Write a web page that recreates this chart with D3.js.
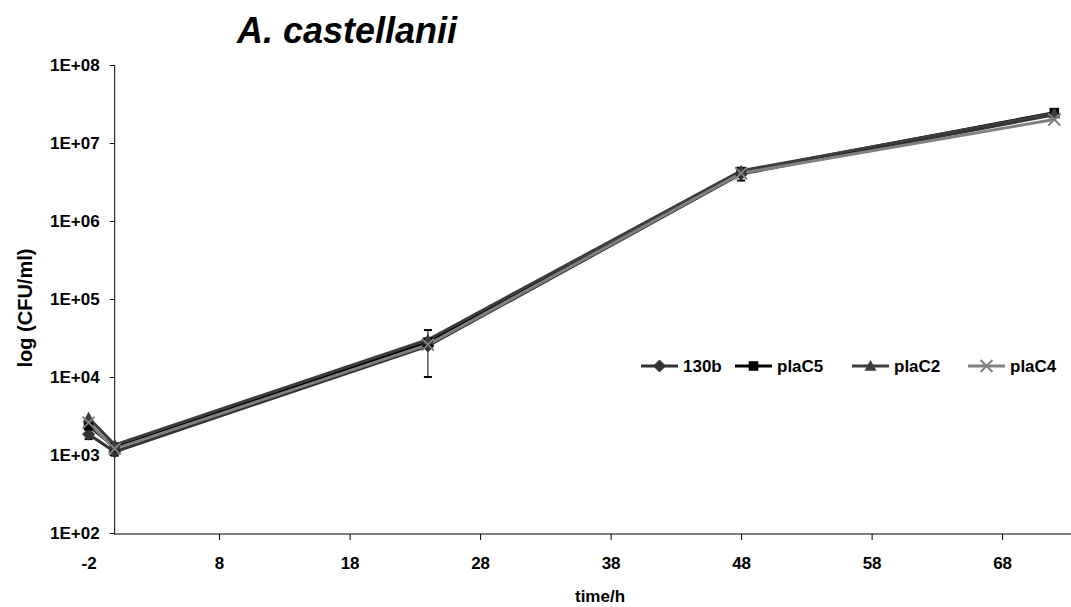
<!DOCTYPE html>
<html>
<head>
<meta charset="utf-8">
<script src="https://cdn.jsdelivr.net/npm/d3@7"></script>
<style>
  html, body { margin: 0; padding: 0; background: #fff; }
  svg { display: block; font-family: "Liberation Sans", Arial, sans-serif; }
</style>
</head>
<body>
<svg id="chart" width="1071" height="607"></svg>
<script>
// Growth of Legionella strains inside A. castellanii (CFU/ml over time)
const times = [-2, 0, 24, 48, 72];
const seriesNames = ["130b", "plaC5", "plaC2", "plaC4"];
const val130b = [1850, 1100, 25000, 4000000, 23000000];
const valPlaC5 = [2400, 1250, 28000, 4300000, 24500000];
const valPlaC2 = [3000, 1350, 30000, 4400000, 24000000];
const valPlaC4 = [2600, 1200, 26000, 4100000, 20000000];
const err130b = [250, 120, 15000, 700000, 1500000];
const xTicks = [-2, 8, 18, 28, 38, 48, 58, 68];
const xTickLabels = ["-2", "8", "18", "28", "38", "48", "58", "68"];
const yTicks = [1e2, 1e3, 1e4, 1e5, 1e6, 1e7, 1e8];
const yTickLabels = ["1E+02", "1E+03", "1E+04", "1E+05", "1E+06", "1E+07", "1E+08"];

const series = [
  { name: seriesNames[0], values: val130b, err: err130b, color: "#333333", marker: "diamond" },
  { name: seriesNames[1], values: valPlaC5, err: null, color: "#000000", marker: "square" },
  { name: seriesNames[2], values: valPlaC2, err: null, color: "#3c3c3c", marker: "triangle" },
  { name: seriesNames[3], values: valPlaC4, err: null, color: "#808080", marker: "cross" }
];

const svg = d3.select("#chart");
const x = d3.scaleLinear().domain([-2, 74]).range([88.6, 1080.4]);
const y = d3.scaleLog().domain([1e2, 1e8]).range([533, 65]);

// Title
svg.append("text")
  .attr("x", 237).attr("y", 43)
  .attr("font-size", 36).attr("font-weight", "bold").attr("font-style", "italic")
  .text("A. castellanii");

// Y axis (crosses at t = 0)
const yAxis = d3.axisLeft(y).tickValues(yTicks)
  .tickFormat((d, i) => yTickLabels[i]).tickSize(5).tickPadding(10);
const gy = svg.append("g").attr("transform", `translate(${x(0)},0)`).call(yAxis);
gy.select(".domain").attr("stroke", "#000").attr("stroke-width", 1)
  .attr("d", `M0,${y(1e8)}V${y(1e2) + 2}`);
gy.selectAll(".tick line").attr("stroke", "#000");
gy.selectAll(".tick text").attr("font-size", 17).attr("font-weight", "bold")
  .attr("font-family", "Liberation Sans, Arial, sans-serif").attr("fill", "#000");

// X axis
const xAxis = d3.axisBottom(x).tickValues(xTicks).tickFormat((d, i) => xTickLabels[i])
  .tickSize(6).tickPadding(17).tickSizeOuter(0);
const gx = svg.append("g").attr("transform", `translate(0,${y(1e2) + 1})`).call(xAxis);
gx.select(".domain").attr("stroke", "#808080").attr("stroke-width", 2)
  .attr("d", `M${x(0)},0H1071`);
gx.selectAll(".tick line").attr("stroke", "#000");
gx.selectAll(".tick").filter(d => d === -2).select("line").remove();
gx.selectAll(".tick text").attr("font-size", 17).attr("font-weight", "bold")
  .attr("font-family", "Liberation Sans, Arial, sans-serif").attr("fill", "#000");

// Axis titles
svg.append("text")
  .attr("x", 600).attr("y", 602).attr("text-anchor", "middle")
  .attr("font-size", 17).attr("font-weight", "bold").text("time/h");
svg.append("text")
  .attr("transform", `translate(32,308) rotate(-90)`).attr("text-anchor", "middle")
  .attr("font-size", 20).attr("font-weight", "bold").text("log (CFU/ml)");

// Marker shapes
function drawMarker(g, type, cx, cy, color, s) {
  if (type === "diamond") {
    g.append("path").attr("d", `M${cx},${cy - s}L${cx + s},${cy}L${cx},${cy + s}L${cx - s},${cy}Z`)
      .attr("fill", color).attr("stroke", color);
  } else if (type === "square") {
    g.append("rect").attr("x", cx - s * 0.8).attr("y", cy - s * 0.8)
      .attr("width", s * 1.6).attr("height", s * 1.6).attr("fill", color);
  } else if (type === "triangle") {
    g.append("path").attr("d", `M${cx},${cy - s}L${cx + s},${cy + s * 0.8}L${cx - s},${cy + s * 0.8}Z`)
      .attr("fill", color);
  } else if (type === "cross") {
    g.append("path").attr("d", `M${cx - s},${cy - s}L${cx + s},${cy + s}M${cx - s},${cy + s}L${cx + s},${cy - s}`)
      .attr("stroke", color).attr("stroke-width", 2).attr("fill", "none");
  }
}

// Error bars
const gErr = svg.append("g");
series.forEach(s => {
  if (!s.err) return;
  times.forEach((t, i) => {
    const cx = x(t);
    const top = y(s.values[i] + s.err[i]);
    const bot = y(Math.max(s.values[i] - s.err[i], 101));
    gErr.append("line").attr("x1", cx).attr("x2", cx).attr("y1", top).attr("y2", bot)
      .attr("stroke", "#000").attr("stroke-width", 1);
    [top, bot].forEach(yy => gErr.append("line").attr("x1", cx - 4).attr("x2", cx + 4)
      .attr("y1", yy).attr("y2", yy).attr("stroke", "#000").attr("stroke-width", 2));
  });
});

// Lines and markers
const line = d3.line().x((d, i) => x(times[i])).y(d => y(d));
series.forEach(s => {
  svg.append("path").datum(s.values).attr("d", line)
    .attr("fill", "none").attr("stroke", s.color).attr("stroke-width", 3)
    .attr("stroke-linejoin", "round");
});
series.forEach(s => {
  const g = svg.append("g");
  s.values.forEach((v, i) => drawMarker(g, s.marker, x(times[i]), y(v), s.color, 6));
});

// Legend
const legendX = [641, 735, 852, 968];
const legendY = 366;
series.forEach((s, i) => {
  const g = svg.append("g").attr("transform", `translate(${legendX[i]},${legendY})`);
  g.append("line").attr("x1", 0).attr("x2", 37).attr("y1", 0).attr("y2", 0)
    .attr("stroke", s.color).attr("stroke-width", 3);
  drawMarker(g, s.marker, 18.5, 0, s.color, 6);
  g.append("text").attr("x", 42).attr("y", 6).attr("font-size", 17)
    .attr("font-weight", "bold").text(s.name);
});
</script>
</body>
</html>
